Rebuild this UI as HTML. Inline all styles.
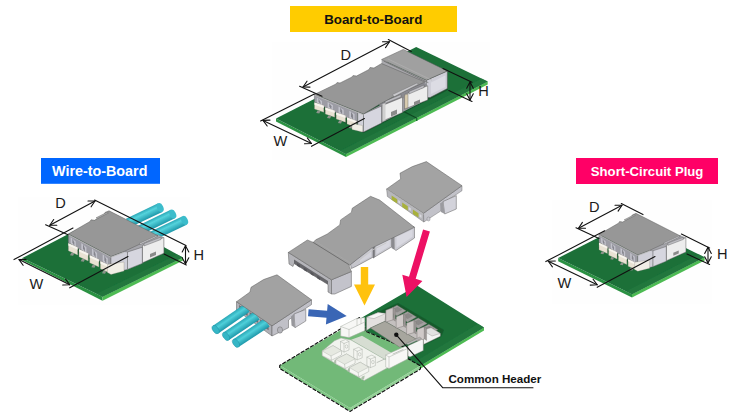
<!DOCTYPE html>
<html lang="en">
<head>
<meta charset="utf-8">
<title>Connector types</title>
<style>
html,body{margin:0;padding:0;background:#fff;}
body{width:730px;height:416px;overflow:hidden;font-family:"Liberation Sans",Arial,sans-serif;}
svg{display:block;}
.lbl{font-family:"Liberation Sans",Arial,sans-serif;font-weight:bold;font-size:13.3px;}
.dim{font-family:"Liberation Sans",Arial,sans-serif;font-size:14.6px;fill:#1a1a1a;}
.ln{stroke:#111;stroke-width:1.1;fill:none;stroke-linecap:round;stroke-linejoin:round;}
</style>
</head>
<body>
<svg width="730" height="416" viewBox="0 0 730 416">
<defs>
  <linearGradient id="wire" x1="0" y1="0" x2="0" y2="1">
    <stop offset="0" stop-color="#2aa7b6"/><stop offset="0.35" stop-color="#55d3dc"/><stop offset="1" stop-color="#1f98aa"/>
  </linearGradient>
  <linearGradient id="wire2" x1="0" y1="0" x2="0" y2="1">
    <stop offset="0" stop-color="#1f98aa"/><stop offset="0.6" stop-color="#4fd0da"/><stop offset="1" stop-color="#2aa7b6"/>
  </linearGradient>
  <filter id="soft" x="-5%" y="-5%" width="110%" height="110%"><feGaussianBlur stdDeviation="0.45"/></filter>
</defs>
<rect width="730" height="416" fill="#ffffff"/>

<!-- ============ LABELS ============ -->
<rect x="290" y="6" width="167" height="26" fill="#ffcc00"/>
<text class="lbl" x="324.2" y="24" textLength="98.2" lengthAdjust="spacingAndGlyphs" fill="#111" style="font-size:13.4px">Board-to-Board</text>
<rect x="41" y="158" width="119" height="25.8" fill="#0066ff"/>
<text class="lbl" x="52" y="176" textLength="95.4" lengthAdjust="spacingAndGlyphs" fill="#fff" style="font-size:13.8px">Wire-to-Board</text>
<rect x="576" y="158" width="142" height="26" fill="#ff0066"/>
<text class="lbl" x="590.8" y="176" textLength="112.6" lengthAdjust="spacingAndGlyphs" fill="#fff" style="font-size:13.5px">Short-Circuit Plug</text>

<!-- ============ TOP PICTURE ============ -->
<g id="top" filter="url(#soft)">
<rect x="272" y="42" width="218" height="118" fill="#fefefe"/>
<polygon points="276,118.5 346,154 346,157 276,121.5" fill="#2b9142"/>
<polygon points="346,154 487.7,81.5 487.7,84.5 346,157" fill="#4dbb52"/>
<polygon points="276,118.5 416.2,47 487.7,81.5 346,154" fill="#1a6f39"/>
<polygon points="346,154 487.7,81.5 481.7,78.5 340,151" fill="#237b3e" opacity="0.7"/>
<line class="" x1="416.4" y1="118" x2="402.4" y2="110.9" stroke="#0f4a22" stroke-width="1.2"/>
<line class="" x1="416.7" y1="118" x2="416.7" y2="121" stroke="#1d6a30" stroke-width="1.4"/>
<polygon points="316,108 363.5,133 448,90 447,72" fill="#14532a"/>
<polygon points="426.4,80.2 447.3,71 447.3,88.5 430,97.5 426.4,97.5" fill="#cfcfd8" stroke="#5a5a5a" stroke-width="0.5" stroke-linejoin="round"/>
<polygon points="431,82.5 445.3,75.5 445.3,87 431,94" fill="#dcdce4"/>
<polygon points="363.5,114 426.4,81 428,99 363.5,132" fill="#9c9ca2"/>
<polygon points="379,104 426.4,80 426.4,86 381.5,110" fill="#8a8a90"/>
<polygon points="404.6,94.5 427.7,85.8 427.7,100 404.6,109" fill="#ededed" stroke="#5a5a5a" stroke-width="0.5" stroke-linejoin="round"/>
<polygon points="404.6,95 408,94 408,107.5 404.6,109" fill="#d9ccb0" stroke="#5a5a5a" stroke-width="0.4" stroke-linejoin="round"/>
<polygon points="409,91.5 424,85 424,87.5 409,94" fill="#bdbdc2" stroke="#5a5a5a" stroke-width="0.4" stroke-linejoin="round"/>
<polygon points="414,102 420,99.6 420,103 414,105.4" fill="#8a8a8a"/>
<polygon points="382.5,105.4 402.5,97.3 402.5,112.5 382.5,121" fill="#ededed" stroke="#5a5a5a" stroke-width="0.5" stroke-linejoin="round"/>
<polygon points="385,101 401,94.5 401,97 385,103.5" fill="#bdbdc2" stroke="#5a5a5a" stroke-width="0.4" stroke-linejoin="round"/>
<polygon points="391,112 397,109.6 397,114 391,116.4" fill="#8a8a8a"/>
<polygon points="382.5,104 385.5,103 385.5,120.2 382.5,121.3" fill="#d0d0d0"/>
<polygon points="363.5,114 381.5,106 381.5,123 363.5,132" fill="#d6d6df" stroke="#5a5a5a" stroke-width="0.5" stroke-linejoin="round"/>
<polygon points="314.4,94.6 357.8,112.2 357.8,123.2 314.4,102.1" fill="#9c9ca4" stroke="#5a5a5a" stroke-width="0.4" stroke-linejoin="round"/>
<polygon points="316.8,97.6 322,100.9 322,105.8 316.8,102.5" fill="#c2c2cb"/>
<polygon points="318.5,98.6 320.5,101.9 320.5,104.8 318.5,101.5" fill="#85858d"/>
<polygon points="314.5,102.5 323.8,105.8 323.8,112.3 314.5,109" fill="#e9e2d3" stroke="#989284" stroke-width="0.3" stroke-linejoin="round"/>
<polygon points="314.5,102.5 323.8,105.8 323.8,108 314.5,104.7" fill="#f7f4ee"/>
<polygon points="317.5,110.5 320.5,111 319.3,113.5 316.2,113" fill="#8d948b"/>
<polygon points="327.6,102 332.9,105.3 332.9,110.8 327.6,107.5" fill="#c2c2cb"/>
<polygon points="329.3,103 331.4,106.3 331.4,109.8 329.3,106.5" fill="#85858d"/>
<polygon points="325.3,107.5 334.7,110.8 334.7,117.3 325.3,114" fill="#e9e2d3" stroke="#989284" stroke-width="0.3" stroke-linejoin="round"/>
<polygon points="325.3,107.5 334.7,110.8 334.7,113 325.3,109.7" fill="#f7f4ee"/>
<polygon points="328.3,115.5 331.3,116 330.1,118.5 327,118" fill="#8d948b"/>
<polygon points="338.5,106.4 343.7,109.7 343.7,115.8 338.5,112.5" fill="#c2c2cb"/>
<polygon points="340.2,107.4 342.2,110.7 342.2,114.8 340.2,111.5" fill="#85858d"/>
<polygon points="336.2,112.5 345.5,115.8 345.5,122.3 336.2,119" fill="#e9e2d3" stroke="#989284" stroke-width="0.3" stroke-linejoin="round"/>
<polygon points="336.2,112.5 345.5,115.8 345.5,118 336.2,114.7" fill="#f7f4ee"/>
<polygon points="339.2,120.5 342.2,121 341,123.5 337.9,123" fill="#8d948b"/>
<polygon points="349.3,110.8 354.6,114.1 354.6,120.9 349.3,117.5" fill="#c2c2cb"/>
<polygon points="351,111.8 353.1,115.1 353.1,119.9 351,116.5" fill="#85858d"/>
<polygon points="347,117.5 356.4,120.9 356.4,127.4 347,124" fill="#e9e2d3" stroke="#989284" stroke-width="0.3" stroke-linejoin="round"/>
<polygon points="347,117.5 356.4,120.9 356.4,123.1 347,119.7" fill="#f7f4ee"/>
<polygon points="350,125.5 353,126 351.8,128.5 348.7,128" fill="#8d948b"/>
<polygon points="357.8,111.8 363.5,114.2 363.5,132 357.8,130.5" fill="#d2d2da" stroke="#5a5a5a" stroke-width="0.4" stroke-linejoin="round"/>
<polygon points="352,123.5 362.5,125.5 362.5,132 352,129.5" fill="#f1eee6" stroke="#8a8578" stroke-width="0.3" stroke-linejoin="round"/>
<polygon points="381.6,59.5 426.4,80.2 426.4,84 381.6,64.5" fill="#a9a9ad"/>
<polygon points="381.6,59.5 403.3,49.4 447.3,71 426.4,80.2" fill="#a0a0a0" stroke="#5a5a5a" stroke-width="0.5" stroke-linejoin="round"/>
<polyline points="384,61.2 428,82.5" fill="none" stroke="#6e6e6e" stroke-width="0.8" stroke-linejoin="round" stroke-linecap="round"/>
<polyline points="388,59 431.5,80" fill="none" stroke="#b4b4b4" stroke-width="0.6" stroke-linejoin="round" stroke-linecap="round"/>
<polygon points="314.4,94.4 336,84 337,82.6 340,83 352,77 353,75.6 356.5,76 369,69.5 370,67.5 374,68 381.6,63.5 425,82 400,93.3 379,104.6 363.5,114" fill="#979797" stroke="#5a5a5a" stroke-width="0.5" stroke-linejoin="round"/>
<polyline points="314.8,95.3 363.5,114.8" fill="none" stroke="#b9b9b9" stroke-width="0.9" stroke-linejoin="round" stroke-linecap="round"/>
<polygon points="392.5,94.6 417,83 418.5,84.2 394,96.8" fill="#c9c9cd" stroke="#666" stroke-width="0.4" stroke-linejoin="round"/>
</g>

<!-- ============ LEFT PICTURE ============ -->
<g id="left" filter="url(#soft)">
<rect x="18" y="197" width="172" height="108" fill="#fefefe"/>
<polygon points="22.4,258 102.5,296.8 102.5,300.8 22.4,260.2" fill="#2b9142"/>
<polygon points="102.5,296.8 183,257.4 183,260.4 102.5,300.8" fill="#4dbb52"/>
<polygon points="22.4,258 105,215 183,257.4 102.5,296.8" fill="#1a6f39"/>
<polygon points="102.5,296.8 183,257.4 177,254.4 96.5,293.8" fill="#237b3e" opacity="0.7"/>
<g transform="translate(128,223) rotate(-25.6)"><rect x="0" y="-4.8" width="35.7" height="9.6" fill="url(#wire)"/><ellipse cx="35.7" cy="0" rx="3.1" ry="4.8" fill="#3bbccb"/></g>
<g transform="translate(138,231) rotate(-26)"><rect x="0" y="-4.8" width="38.7" height="9.6" fill="url(#wire)"/><ellipse cx="38.7" cy="0" rx="3.1" ry="4.8" fill="#3bbccb"/></g>
<g transform="translate(148,238) rotate(-25.6)"><rect x="0" y="-4.8" width="40.6" height="9.6" fill="url(#wire)"/><ellipse cx="40.6" cy="0" rx="3.1" ry="4.8" fill="#3bbccb"/></g>
<polygon points="67.5,248 105,267 164,253 164,240" fill="#14532a"/>
<polygon points="122,251 157,234.5 163.9,237.5 163.9,253 128,269" fill="#a6a6ac"/>
<polygon points="142.5,245.4 163.9,237.5 163.9,253.2 142.5,262.8" fill="#ededed" stroke="#5a5a5a" stroke-width="0.5" stroke-linejoin="round"/>
<polygon points="144,243.5 161,237 161,239.5 144,246" fill="#bdbdc2" stroke="#5a5a5a" stroke-width="0.4" stroke-linejoin="round"/>
<polygon points="150,254 156,251.6 156,255 150,257.4" fill="#8a8a8a"/>
<polygon points="127.5,252 142.3,247.2 142.3,263.4 127.5,269.4" fill="#d6d6df" stroke="#5a5a5a" stroke-width="0.5" stroke-linejoin="round"/>
<polygon points="68.3,234.3 111,256.8 111,267.8 68.3,242.8" fill="#9c9ca4" stroke="#5a5a5a" stroke-width="0.4" stroke-linejoin="round"/>
<polygon points="70.7,237.3 75.8,241.6 75.8,247.5 70.7,243.2" fill="#c2c2cb"/>
<polygon points="72.4,238.3 74.3,242.6 74.3,246.5 72.4,242.2" fill="#85858d"/>
<polygon points="68.4,243.2 77.6,247.5 77.6,255 68.4,250.8" fill="#e9e2d3" stroke="#989284" stroke-width="0.3" stroke-linejoin="round"/>
<polygon points="68.4,243.2 77.6,247.5 77.6,249.7 68.4,245.4" fill="#f7f4ee"/>
<polygon points="71.3,252.7 74.3,253.2 73.1,255.7 70,255.2" fill="#8d948b"/>
<polygon points="81.3,243 86.4,247.2 86.4,253.5 81.3,249.2" fill="#c2c2cb"/>
<polygon points="83,244 84.9,248.2 84.9,252.5 83,248.2" fill="#85858d"/>
<polygon points="79,249.2 88.2,253.5 88.2,261 79,256.8" fill="#e9e2d3" stroke="#989284" stroke-width="0.3" stroke-linejoin="round"/>
<polygon points="79,249.2 88.2,253.5 88.2,255.7 79,251.4" fill="#f7f4ee"/>
<polygon points="82,258.7 85,259.2 83.8,261.7 80.7,261.2" fill="#8d948b"/>
<polygon points="92,248.6 97.1,252.9 97.1,259.5 92,255.2" fill="#c2c2cb"/>
<polygon points="93.7,249.6 95.6,253.9 95.6,258.5 93.7,254.2" fill="#85858d"/>
<polygon points="89.7,255.2 98.9,259.5 98.9,267 89.7,262.8" fill="#e9e2d3" stroke="#989284" stroke-width="0.3" stroke-linejoin="round"/>
<polygon points="89.7,255.2 98.9,259.5 98.9,261.7 89.7,257.4" fill="#f7f4ee"/>
<polygon points="92.7,264.7 95.7,265.2 94.5,267.7 91.4,267.2" fill="#8d948b"/>
<polygon points="102.7,254.2 107.8,258.5 107.8,265.5 102.7,261.2" fill="#c2c2cb"/>
<polygon points="104.4,255.2 106.3,259.5 106.3,264.5 104.4,260.2" fill="#85858d"/>
<polygon points="100.4,261.2 109.6,265.5 109.6,273 100.4,268.8" fill="#e9e2d3" stroke="#989284" stroke-width="0.3" stroke-linejoin="round"/>
<polygon points="100.4,261.2 109.6,265.5 109.6,267.7 100.4,263.4" fill="#f7f4ee"/>
<polygon points="103.3,270.7 106.3,271.2 105.1,273.7 102,273.2" fill="#8d948b"/>
<polygon points="111,256.5 124,251.5 127.5,252 127.5,269.4 111,273" fill="#cfcfd8" stroke="#5a5a5a" stroke-width="0.4" stroke-linejoin="round"/>
<polygon points="107.5,264.5 124,262 124,271 111,274.5 107.5,272.5" fill="#f1eee6" stroke="#8a8578" stroke-width="0.3" stroke-linejoin="round"/>
<polygon points="68.3,234 90,221.5 91,219.8 94.5,220.3 104,214.5 105,212.5 109,210.8 158,235.7 124,251.5 111,256.5" fill="#979797" stroke="#5a5a5a" stroke-width="0.5" stroke-linejoin="round"/>
<polyline points="68.8,235 111,257.2 124,252.3" fill="none" stroke="#b9b9b9" stroke-width="0.9" stroke-linejoin="round" stroke-linecap="round"/>
<polygon points="139,243.5 156,235.8 157.5,236.6 140.5,244.5" fill="#c4c4c8" stroke="#666" stroke-width="0.4" stroke-linejoin="round"/>
<polygon points="96,217.8 107,212.2 108.5,213 97.5,218.7" fill="#a9a9a9" stroke="#666" stroke-width="0.4" stroke-linejoin="round"/>
</g>

<!-- ============ RIGHT PICTURE ============ -->
<g id="right" filter="url(#soft)">
<rect x="552" y="200" width="160" height="104" fill="#fefefe"/>
<polygon points="558.2,258 632,294.2 632,297.4 558.2,261.2" fill="#2b9142"/>
<polygon points="632,294.2 704.6,257.3 704.6,260.5 632,297.4" fill="#4dbb52"/>
<polygon points="558.2,258 630.8,221.1 704.6,257.3 632,294.2" fill="#1a6f39"/>
<polygon points="632,294.2 704.6,257.3 698.6,254.3 626,291.2" fill="#237b3e" opacity="0.7"/>
<g transform="translate(639.75,234.15) scale(0.91) translate(-113.15,-233.65)">
<polygon points="67.5,248 105,267 164,253 164,240" fill="#14532a"/>
<polygon points="122,251 157,234.5 163.9,237.5 163.9,253 128,269" fill="#a6a6ac"/>
<polygon points="142.5,245.4 163.9,237.5 163.9,253.2 142.5,262.8" fill="#ededed" stroke="#5a5a5a" stroke-width="0.5" stroke-linejoin="round"/>
<polygon points="144,243.5 161,237 161,239.5 144,246" fill="#bdbdc2" stroke="#5a5a5a" stroke-width="0.4" stroke-linejoin="round"/>
<polygon points="150,254 156,251.6 156,255 150,257.4" fill="#8a8a8a"/>
<polygon points="127.5,252 142.3,247.2 142.3,263.4 127.5,269.4" fill="#d6d6df" stroke="#5a5a5a" stroke-width="0.5" stroke-linejoin="round"/>
<polygon points="68.3,234.3 111,256.8 111,267.8 68.3,242.8" fill="#9c9ca4" stroke="#5a5a5a" stroke-width="0.4" stroke-linejoin="round"/>
<polygon points="70.7,237.3 75.8,241.6 75.8,247.5 70.7,243.2" fill="#c2c2cb"/>
<polygon points="72.4,238.3 74.3,242.6 74.3,246.5 72.4,242.2" fill="#85858d"/>
<polygon points="68.4,243.2 77.6,247.5 77.6,255 68.4,250.8" fill="#e9e2d3" stroke="#989284" stroke-width="0.3" stroke-linejoin="round"/>
<polygon points="68.4,243.2 77.6,247.5 77.6,249.7 68.4,245.4" fill="#f7f4ee"/>
<polygon points="71.3,252.7 74.3,253.2 73.1,255.7 70,255.2" fill="#8d948b"/>
<polygon points="81.3,243 86.4,247.2 86.4,253.5 81.3,249.2" fill="#c2c2cb"/>
<polygon points="83,244 84.9,248.2 84.9,252.5 83,248.2" fill="#85858d"/>
<polygon points="79,249.2 88.2,253.5 88.2,261 79,256.8" fill="#e9e2d3" stroke="#989284" stroke-width="0.3" stroke-linejoin="round"/>
<polygon points="79,249.2 88.2,253.5 88.2,255.7 79,251.4" fill="#f7f4ee"/>
<polygon points="82,258.7 85,259.2 83.8,261.7 80.7,261.2" fill="#8d948b"/>
<polygon points="92,248.6 97.1,252.9 97.1,259.5 92,255.2" fill="#c2c2cb"/>
<polygon points="93.7,249.6 95.6,253.9 95.6,258.5 93.7,254.2" fill="#85858d"/>
<polygon points="89.7,255.2 98.9,259.5 98.9,267 89.7,262.8" fill="#e9e2d3" stroke="#989284" stroke-width="0.3" stroke-linejoin="round"/>
<polygon points="89.7,255.2 98.9,259.5 98.9,261.7 89.7,257.4" fill="#f7f4ee"/>
<polygon points="92.7,264.7 95.7,265.2 94.5,267.7 91.4,267.2" fill="#8d948b"/>
<polygon points="102.7,254.2 107.8,258.5 107.8,265.5 102.7,261.2" fill="#c2c2cb"/>
<polygon points="104.4,255.2 106.3,259.5 106.3,264.5 104.4,260.2" fill="#85858d"/>
<polygon points="100.4,261.2 109.6,265.5 109.6,273 100.4,268.8" fill="#e9e2d3" stroke="#989284" stroke-width="0.3" stroke-linejoin="round"/>
<polygon points="100.4,261.2 109.6,265.5 109.6,267.7 100.4,263.4" fill="#f7f4ee"/>
<polygon points="103.3,270.7 106.3,271.2 105.1,273.7 102,273.2" fill="#8d948b"/>
<polygon points="111,256.5 124,251.5 127.5,252 127.5,269.4 111,273" fill="#cfcfd8" stroke="#5a5a5a" stroke-width="0.4" stroke-linejoin="round"/>
<polygon points="107.5,264.5 124,262 124,271 111,274.5 107.5,272.5" fill="#f1eee6" stroke="#8a8578" stroke-width="0.3" stroke-linejoin="round"/>
<polygon points="68.3,234 90,221.5 91,219.8 94.5,220.3 104,214.5 105,212.5 109,210.8 158,235.7 124,251.5 111,256.5" fill="#979797" stroke="#5a5a5a" stroke-width="0.5" stroke-linejoin="round"/>
<polyline points="68.8,235 111,257.2 124,252.3" fill="none" stroke="#b9b9b9" stroke-width="0.9" stroke-linejoin="round" stroke-linecap="round"/>
<polygon points="139,243.5 156,235.8 157.5,236.6 140.5,244.5" fill="#c4c4c8" stroke="#666" stroke-width="0.4" stroke-linejoin="round"/>
<polygon points="96,217.8 107,212.2 108.5,213 97.5,218.7" fill="#a9a9a9" stroke="#666" stroke-width="0.4" stroke-linejoin="round"/>
</g>
</g>

<!-- ============ CENTER PICTURE ============ -->
<g id="center" filter="url(#soft)">
<polygon points="280,365.5 350,408 350,411 280,368.5" fill="#80c886"/>
<polygon points="350,408 419.9,365.9 419.9,368.9 350,411" fill="#93d296"/>
<polygon points="419.9,365.9 484,327.4 484,330.4 419.9,368.9" fill="#4dbb52"/>
<polygon points="280,365.5 362,317.6 366,331 408,349 408,358.7 419.9,365.9 350,408" fill="#72b978"/>
<polygon points="362,317.6 417,285.5 484,327.4 419.9,365.9 408,358.7 408,349 366,331" fill="#1a6f39"/>
<polygon points="419.9,365.9 484,327.4 478,323.8 413.9,362.3" fill="#237b3e" opacity="0.7"/>
<polyline points="359.5,317.6 279.7,365.5 279.7,368.5 350,411.4 420.4,369.1 420.4,365.9 408,358.7 408,349 365,331 364.5,319" fill="none" stroke="#111" stroke-width="1.15" stroke-linejoin="round" stroke-linecap="round" stroke-dasharray="3.2 2.2"/>
<polygon points="378,312 398,303 444,330 441,337 424,345" fill="#155a2c"/>
<polygon points="388,310 397,305.3 406,310.8 397,316" fill="#a3a1a0" stroke="#77736f" stroke-width="0.4" stroke-linejoin="round"/>
<polygon points="392,309.5 397.5,306.8 402.5,309.8 397,312.6" fill="#8b8988"/>
<polygon points="398.6,316.3 407.6,311.6 416.6,317.1 407.6,322.3" fill="#a3a1a0" stroke="#77736f" stroke-width="0.4" stroke-linejoin="round"/>
<polygon points="402.6,315.8 408.1,313.1 413.1,316.1 407.6,318.9" fill="#8b8988"/>
<polygon points="409.2,322.6 418.2,317.9 427.2,323.4 418.2,328.6" fill="#a3a1a0" stroke="#77736f" stroke-width="0.4" stroke-linejoin="round"/>
<polygon points="413.2,322.1 418.7,319.4 423.7,322.4 418.2,325.2" fill="#8b8988"/>
<polygon points="419.8,328.9 428.8,324.2 437.8,329.7 428.8,334.9" fill="#a3a1a0" stroke="#77736f" stroke-width="0.4" stroke-linejoin="round"/>
<polygon points="423.8,328.4 429.3,325.7 434.3,328.7 428.8,331.5" fill="#8b8988"/>
<polygon points="422.7,330.3 431,327.8 440.4,333.4 440.4,336.2 423.5,344.4" fill="#f4f4f4" stroke="#77736f" stroke-width="0.4" stroke-linejoin="round"/>
<polygon points="422.7,330.3 431,327.8 440.4,333.4 432,336" fill="#e2e2e2" stroke="#77736f" stroke-width="0.3" stroke-linejoin="round"/>
<polygon points="385.5,313 423,335.5 423,343 416.5,339.5 385,321.3" fill="#c4c0bf" stroke="#77736f" stroke-width="0.3" stroke-linejoin="round"/>
<polygon points="366.5,317.2 378,312.6 385.8,313.4 385,321.3 370.4,328 366.5,330.5" fill="#e3e0df" stroke="#77736f" stroke-width="0.4" stroke-linejoin="round"/>
<polygon points="366.5,317.2 378,312.6 385.8,313.4 374,318.6" fill="#f6f6f6" stroke="#77736f" stroke-width="0.3" stroke-linejoin="round"/>
<polygon points="370.4,328 385,321.3 416.5,339.3 399.6,347.2" fill="#a7a69e" stroke="#6b6a64" stroke-width="0.4" stroke-linejoin="round"/>
<polygon points="385.8,310.3 393.2,307.6 393.2,319.8 385.8,322" fill="#cfc9c8" stroke="#77736f" stroke-width="0.45" stroke-linejoin="round"/>
<polygon points="393.2,307.6 395.4,309 395.4,321.2 393.2,319.8" fill="#9c9796" stroke="#77736f" stroke-width="0.3" stroke-linejoin="round"/>
<polygon points="396.2,316.7 403.6,314 403.6,326.2 396.2,328.4" fill="#cfc9c8" stroke="#77736f" stroke-width="0.45" stroke-linejoin="round"/>
<polygon points="403.6,314 405.8,315.4 405.8,327.6 403.6,326.2" fill="#9c9796" stroke="#77736f" stroke-width="0.3" stroke-linejoin="round"/>
<polygon points="406.6,323.1 414,320.4 414,332.6 406.6,334.8" fill="#cfc9c8" stroke="#77736f" stroke-width="0.45" stroke-linejoin="round"/>
<polygon points="414,320.4 416.2,321.8 416.2,334 414,332.6" fill="#9c9796" stroke="#77736f" stroke-width="0.3" stroke-linejoin="round"/>
<polygon points="417,329.5 424.4,326.8 424.4,339 417,341.2" fill="#cfc9c8" stroke="#77736f" stroke-width="0.45" stroke-linejoin="round"/>
<polygon points="424.4,326.8 426.6,328.2 426.6,340.4 424.4,339" fill="#9c9796" stroke="#77736f" stroke-width="0.3" stroke-linejoin="round"/>
<polygon points="408,345.7 422,339.3 423.3,340 423.3,350.5 410,357 408,356" fill="#f6f6f6" stroke="#77736f" stroke-width="0.4" stroke-linejoin="round"/>
<polygon points="405.8,343.6 419.6,337.2 421.6,338.4 408,344.8" fill="#b5b5b5" stroke="#77736f" stroke-width="0.4" stroke-linejoin="round"/>
<polygon points="340.7,326.5 356,318.8 364.8,317.5 364.8,330.6 349,337.6 340.7,336" fill="#f7f7f5" stroke="#a9aea6" stroke-width="0.5" stroke-linejoin="round"/>
<polyline points="340.7,326.5 349,329.5 364.8,322" fill="none" stroke="#a9aea6" stroke-width="0.5" stroke-linejoin="round" stroke-linecap="round"/>
<polyline points="349,329.5 349,337.6" fill="none" stroke="#a9aea6" stroke-width="0.5" stroke-linejoin="round" stroke-linecap="round"/>
<polyline points="357,318.8 357,325.5" fill="none" stroke="#a9aea6" stroke-width="0.5" stroke-linejoin="round" stroke-linecap="round"/>
<polyline points="361,318 361,323.7" fill="none" stroke="#a9aea6" stroke-width="0.5" stroke-linejoin="round" stroke-linecap="round"/>
<polygon points="351,339.8 362,335.7 391.8,353 384.6,359.2" fill="#d6ddd2"/>
<polygon points="322.3,351 334.5,340.8 341,338 351,340 385,359.5 389,360.5 389,367 364.2,380.5 322.3,355.8" fill="#f1f3ee" stroke="#a9aea6" stroke-width="0.5" stroke-linejoin="round"/>
<polygon points="322.3,351 333,345.6 341.5,350.6 341.5,355 331.5,360.3 322.3,355.6" fill="#f5f6f2" stroke="#a9aea6" stroke-width="0.5" stroke-linejoin="round"/>
<polygon points="322.3,351 333,345.6 341.5,350.6 331,356" fill="#e6e9e1" stroke="#a9aea6" stroke-width="0.4" stroke-linejoin="round"/>
<polyline points="331,356 331.5,360.3" fill="none" stroke="#a9aea6" stroke-width="0.5" stroke-linejoin="round" stroke-linecap="round"/>
<polygon points="334.5,360.2 337.5,359 336.8,362.6 333.8,363.4" fill="#aebfaa"/>
<polygon points="335.9,359.3 346.6,353.9 355.1,358.9 355.1,363.3 345.1,368.6 335.9,363.9" fill="#f5f6f2" stroke="#a9aea6" stroke-width="0.5" stroke-linejoin="round"/>
<polygon points="335.9,359.3 346.6,353.9 355.1,358.9 344.6,364.3" fill="#e6e9e1" stroke="#a9aea6" stroke-width="0.4" stroke-linejoin="round"/>
<polyline points="344.6,364.3 345.1,368.6" fill="none" stroke="#a9aea6" stroke-width="0.5" stroke-linejoin="round" stroke-linecap="round"/>
<polygon points="348.1,368.5 351.1,367.3 350.4,370.9 347.4,371.7" fill="#aebfaa"/>
<polygon points="349.5,367.6 360.2,362.2 368.7,367.2 368.7,371.6 358.7,376.9 349.5,372.2" fill="#f5f6f2" stroke="#a9aea6" stroke-width="0.5" stroke-linejoin="round"/>
<polygon points="349.5,367.6 360.2,362.2 368.7,367.2 358.2,372.6" fill="#e6e9e1" stroke="#a9aea6" stroke-width="0.4" stroke-linejoin="round"/>
<polyline points="358.2,372.6 358.7,376.9" fill="none" stroke="#a9aea6" stroke-width="0.5" stroke-linejoin="round" stroke-linecap="round"/>
<polygon points="361.7,376.8 364.7,375.6 364,379.2 361,380" fill="#aebfaa"/>
<polygon points="340.5,341.5 345.5,339.5 349,341.5 349,350 344,352 340.5,350" fill="#f4f5f1" stroke="#a9aea6" stroke-width="0.5" stroke-linejoin="round"/>
<polyline points="340.5,341.5 344,343.5 349,341.5" fill="none" stroke="#a9aea6" stroke-width="0.5" stroke-linejoin="round" stroke-linecap="round"/>
<polyline points="344,343.5 344,352" fill="none" stroke="#a9aea6" stroke-width="0.5" stroke-linejoin="round" stroke-linecap="round"/>
<ellipse cx="346.5" cy="346.5" rx="1.3" ry="1.7" fill="none" stroke="#a9aea6" stroke-width="0.5"/>
<polygon points="353.7,349.3 358.7,347.3 362.2,349.3 362.2,357.8 357.2,359.8 353.7,357.8" fill="#f4f5f1" stroke="#a9aea6" stroke-width="0.5" stroke-linejoin="round"/>
<polyline points="353.7,349.3 357.2,351.3 362.2,349.3" fill="none" stroke="#a9aea6" stroke-width="0.5" stroke-linejoin="round" stroke-linecap="round"/>
<polyline points="357.2,351.3 357.2,359.8" fill="none" stroke="#a9aea6" stroke-width="0.5" stroke-linejoin="round" stroke-linecap="round"/>
<ellipse cx="359.7" cy="354.3" rx="1.3" ry="1.7" fill="none" stroke="#a9aea6" stroke-width="0.5"/>
<polygon points="366.9,357.1 371.9,355.1 375.4,357.1 375.4,365.6 370.4,367.6 366.9,365.6" fill="#f4f5f1" stroke="#a9aea6" stroke-width="0.5" stroke-linejoin="round"/>
<polyline points="366.9,357.1 370.4,359.1 375.4,357.1" fill="none" stroke="#a9aea6" stroke-width="0.5" stroke-linejoin="round" stroke-linecap="round"/>
<polyline points="370.4,359.1 370.4,367.6" fill="none" stroke="#a9aea6" stroke-width="0.5" stroke-linejoin="round" stroke-linecap="round"/>
<ellipse cx="372.9" cy="362.1" rx="1.3" ry="1.7" fill="none" stroke="#a9aea6" stroke-width="0.5"/>
<polygon points="385.7,355 406,346 407.6,347 407.6,359 389,368.6 385.7,367" fill="#f8f8f6" stroke="#a9aea6" stroke-width="0.5" stroke-linejoin="round"/>
<polyline points="385.7,355 389,357 407.6,348.5" fill="none" stroke="#a9aea6" stroke-width="0.5" stroke-linejoin="round" stroke-linecap="round"/>
<polyline points="389,357 389,368.6" fill="none" stroke="#a9aea6" stroke-width="0.5" stroke-linejoin="round" stroke-linecap="round"/>
<polyline points="393,354 403,349.6" fill="none" stroke="#a9aea6" stroke-width="0.7" stroke-linejoin="round" stroke-linecap="round"/>
<polyline points="377,362.5 384,359.3" fill="none" stroke="#a9aea6" stroke-width="0.7" stroke-linejoin="round" stroke-linecap="round"/>
<polygon points="386.6,189 423.5,213.3 423.8,222 387.4,196.5" fill="#b7b7bc" stroke="#5a5a5a" stroke-width="0.4" stroke-linejoin="round"/>
<polygon points="391.6,195.5 397.2,199.2 397.2,203.5 391.6,199.8" fill="#a8b13a"/>
<polygon points="398.2,199.9 400.2,201.2 400.2,203.9 398.2,202.6" fill="#d9d9de"/>
<polygon points="402.2,202.6 407.8,206.3 407.8,210.6 402.2,206.9" fill="#a8b13a"/>
<polygon points="408.8,207 410.8,208.3 410.8,211 408.8,209.7" fill="#d9d9de"/>
<polygon points="412.9,209.6 418.5,213.3 418.5,217.6 412.9,213.9" fill="#a8b13a"/>
<polygon points="419.5,214 421.5,215.3 421.5,218 419.5,216.7" fill="#d9d9de"/>
<polygon points="423.5,213.3 462,185.7 462,190.7 456.3,194.5 441.5,204 441,210.8 423.8,222" fill="#c2c2c9" stroke="#5a5a5a" stroke-width="0.4" stroke-linejoin="round"/>
<polygon points="443,201.5 456.3,195.6 456.3,209 444.7,214" fill="#d3d3db" stroke="#5a5a5a" stroke-width="0.5" stroke-linejoin="round"/>
<polygon points="443,201.5 444.7,214 441,212 440,203.5" fill="#9b9ba0"/>
<ellipse cx="428.5" cy="219" rx="1.6" ry="2" fill="#c9c9cf" stroke="#77777c" stroke-width="0.4"/>
<polygon points="426.4,161.6 462,185.7 423.5,213.3 386.6,189 400.7,179 400,173.2 412.3,166.6" fill="#a3a3a3" stroke="#5a5a5a" stroke-width="0.5" stroke-linejoin="round"/>
<polyline points="387.2,189.8 423.5,214" fill="none" stroke="#bdbdbd" stroke-width="0.8" stroke-linejoin="round" stroke-linecap="round"/>
<polygon points="394,235.5 413.8,226.5 414.5,227.3 414.5,238 396,250.5 394.5,249.5" fill="#cbcbd3" stroke="#5a5a5a" stroke-width="0.5" stroke-linejoin="round"/>
<polygon points="396.5,237 412.5,229.6 412.5,236.8 396.5,247.5" fill="#d9d9e1"/>
<polygon points="374.7,244.5 391.5,236 391.5,247 374.7,257" fill="#c9c9d1" stroke="#5a5a5a" stroke-width="0.5" stroke-linejoin="round"/>
<polygon points="376.5,246.2 389.8,239.4 389.8,246 376.5,254" fill="#d7d7df"/>
<polygon points="350.5,264.5 372,245.8 373,246 373,257.2 356,266.4 351.4,268.5" fill="#c5c5cd" stroke="#5a5a5a" stroke-width="0.5" stroke-linejoin="round"/>
<polygon points="360,259.5 371,250 371,256.5 360,262.5" fill="#d3d3db"/>
<polygon points="373,246 374.7,245.2 374.7,257.6 373,258.4" fill="#77777c"/>
<polygon points="391.5,236.5 394,235.8 394,249.5 391.5,248" fill="#8a8a8f"/>
<polygon points="288.3,252.4 331.5,279.8 331.5,294 328,292 328,284.5 294,263.5 293,266.5 289,264" fill="#b4b4b9" stroke="#5a5a5a" stroke-width="0.5" stroke-linejoin="round"/>
<polygon points="294,259.5 328,281 328,284.5 294,263.5" fill="#66666a"/>
<polygon points="297,263.2 300,265.1 300,267.6 297,265.7" fill="#55555a"/>
<polygon points="303.8,267.4 306.8,269.3 306.8,271.8 303.8,269.9" fill="#55555a"/>
<polygon points="310.5,271.6 313.5,273.5 313.5,276 310.5,274.1" fill="#55555a"/>
<polygon points="317.2,275.8 320.2,277.7 320.2,280.2 317.2,278.3" fill="#55555a"/>
<polygon points="331.5,279.8 351.4,271.5 351.4,286.4 334.8,294 331.5,294" fill="#c3c3cb" stroke="#5a5a5a" stroke-width="0.5" stroke-linejoin="round"/>
<polygon points="370.5,196.3 379.6,200 414.5,227.3 394.5,237 371.3,248.3 349,265.7 351.4,271.5 331.5,279.8 288.3,252.4 307.4,240 313.2,242.4 315.7,239.8 327.3,234 339.8,224.9 340.6,219.9 351.4,212.4 352.2,208.3" fill="#a0a0a0" stroke="#5a5a5a" stroke-width="0.5" stroke-linejoin="round"/>
<polyline points="313.2,242.4 348.9,264.6" fill="none" stroke="#6a6a6a" stroke-width="0.9" stroke-linejoin="round" stroke-linecap="round"/>
<polyline points="315.5,241.4 350.5,263" fill="none" stroke="#a8a8a8" stroke-width="0.7" stroke-linejoin="round" stroke-linecap="round"/>
<polyline points="353,265 372,250.3 386,243" fill="none" stroke="#c5c5c5" stroke-width="0.9" stroke-linejoin="round" stroke-linecap="round"/>
<polygon points="236.5,301.7 272,325.8 272,336 236.5,310" fill="#b0b0b6" stroke="#5a5a5a" stroke-width="0.5" stroke-linejoin="round"/>
<polygon points="239.1,304.9 247.6,310.7 247.6,315.9 239.1,310.1" fill="#6d6d74"/>
<polygon points="249.6,312.1 258.1,317.9 258.1,323.1 249.6,317.3" fill="#6d6d74"/>
<polygon points="260.1,319.3 268.6,325.1 268.6,330.3 260.1,324.5" fill="#6d6d74"/>
<g transform="translate(247,308) rotate(145.5)"><rect x="0" y="-4.7" width="38.1" height="9.4" fill="url(#wire2)"/><ellipse cx="38.1" cy="0" rx="2.8" ry="4.7" fill="#35b6c6" stroke="#1c8e9f" stroke-width="0.4"/></g>
<g transform="translate(257,315.5) rotate(146.1)"><rect x="0" y="-4.7" width="37.3" height="9.4" fill="url(#wire2)"/><ellipse cx="37.3" cy="0" rx="2.8" ry="4.7" fill="#35b6c6" stroke="#1c8e9f" stroke-width="0.4"/></g>
<g transform="translate(267,322.5) rotate(146.3)"><rect x="0" y="-4.7" width="37.3" height="9.4" fill="url(#wire2)"/><ellipse cx="37.3" cy="0" rx="2.8" ry="4.7" fill="#35b6c6" stroke="#1c8e9f" stroke-width="0.4"/></g>
<polygon points="272,325.8 311.5,299.8 311.5,304.6 294,316 288.5,320 288.5,327.7 272,336" fill="#c0c0c7" stroke="#5a5a5a" stroke-width="0.5" stroke-linejoin="round"/>
<polygon points="294,314 305.8,309.4 305.8,321 295,327.7" fill="#d1d1d9" stroke="#5a5a5a" stroke-width="0.5" stroke-linejoin="round"/>
<polygon points="294,314 295,327.7 291.5,325.5 291,316.5" fill="#97979c"/>
<ellipse cx="280" cy="330" rx="2.6" ry="3.2" fill="#b4b4ba" stroke="#6c6c6c" stroke-width="0.5"/>
<polygon points="277,274.8 311.5,299.8 272,325.8 236.5,301.7 250,292 251,287.3 263.5,279.6" fill="#a2a2a2" stroke="#5a5a5a" stroke-width="0.5" stroke-linejoin="round"/>
</g>

<!-- ============ DIMENSIONS ============ -->
<g id="dims">
<line class="ln" x1="303" y1="87" x2="389.5" y2="41.8"/><polyline points="310,87.1 303,87 307,81.2" fill="none" stroke="#111" stroke-width="1.1" stroke-linejoin="round" stroke-linecap="round"/><polyline points="382.5,41.7 389.5,41.8 385.5,47.6" fill="none" stroke="#111" stroke-width="1.1" stroke-linejoin="round" stroke-linecap="round"/>
<line class="ln" x1="299.6" y1="86.3" x2="322" y2="96.3"/>
<line class="ln" x1="388.3" y1="39.6" x2="411.3" y2="51.5"/>
<line class="ln" x1="260.6" y1="121" x2="314.4" y2="94"/>
<line class="ln" x1="311.5" y1="146.3" x2="364.4" y2="118.5"/>
<line class="ln" x1="263" y1="120.4" x2="311.5" y2="143.5"/><polyline points="267.2,126 263,120.4 270,120.1" fill="none" stroke="#111" stroke-width="1.1" stroke-linejoin="round" stroke-linecap="round"/><polyline points="307.3,137.9 311.5,143.5 304.5,143.8" fill="none" stroke="#111" stroke-width="1.1" stroke-linejoin="round" stroke-linecap="round"/>
<line class="ln" x1="443" y1="68.5" x2="472" y2="82.3"/>
<line class="ln" x1="448.8" y1="90.6" x2="472" y2="101.5"/>
<line class="ln" x1="470" y1="82" x2="470" y2="100"/><polyline points="466.7,88.2 470,82 473.3,88.2" fill="none" stroke="#111" stroke-width="1.1" stroke-linejoin="round" stroke-linecap="round"/><polyline points="473.3,93.8 470,100 466.7,93.8" fill="none" stroke="#111" stroke-width="1.1" stroke-linejoin="round" stroke-linecap="round"/>
<text class="dim" x="340.6" y="60.2">D</text>
<text class="dim" x="273.5" y="145.6">W</text>
<text class="dim" x="478.3" y="96.2">H</text>
<line class="ln" x1="49.8" y1="225.3" x2="95" y2="201"/><polyline points="56.8,225.3 49.8,225.3 53.7,219.5" fill="none" stroke="#111" stroke-width="1.1" stroke-linejoin="round" stroke-linecap="round"/><polyline points="88,201 95,201 91.1,206.8" fill="none" stroke="#111" stroke-width="1.1" stroke-linejoin="round" stroke-linecap="round"/>
<line class="ln" x1="45.6" y1="224.8" x2="68" y2="234.8"/>
<line class="ln" x1="94.6" y1="200" x2="186" y2="245.6"/>
<line class="ln" x1="14" y1="259.6" x2="73" y2="228"/>
<line class="ln" x1="69.7" y1="287.8" x2="128" y2="256.5"/>
<line class="ln" x1="19" y1="259.6" x2="69.7" y2="284.8"/><polyline points="23.1,265.3 19,259.6 26,259.4" fill="none" stroke="#111" stroke-width="1.1" stroke-linejoin="round" stroke-linecap="round"/><polyline points="65.6,279.1 69.7,284.8 62.7,285" fill="none" stroke="#111" stroke-width="1.1" stroke-linejoin="round" stroke-linecap="round"/>
<line class="ln" x1="164" y1="254" x2="186.3" y2="265"/>
<line class="ln" x1="185.5" y1="245.8" x2="185.5" y2="264"/><polyline points="182.2,252 185.5,245.8 188.8,252" fill="none" stroke="#111" stroke-width="1.1" stroke-linejoin="round" stroke-linecap="round"/><polyline points="188.8,257.8 185.5,264 182.2,257.8" fill="none" stroke="#111" stroke-width="1.1" stroke-linejoin="round" stroke-linecap="round"/>
<text class="dim" x="55.2" y="208">D</text>
<text class="dim" x="29.6" y="289">W</text>
<text class="dim" x="193.5" y="260">H</text>
<line class="ln" x1="578.5" y1="228.2" x2="622" y2="205.3"/><polyline points="585.5,228.2 578.5,228.2 582.4,222.4" fill="none" stroke="#111" stroke-width="1.1" stroke-linejoin="round" stroke-linecap="round"/><polyline points="615,205.3 622,205.3 618.1,211.1" fill="none" stroke="#111" stroke-width="1.1" stroke-linejoin="round" stroke-linecap="round"/>
<line class="ln" x1="576" y1="227.8" x2="599" y2="238.5"/>
<line class="ln" x1="621.3" y1="203.6" x2="643" y2="214.6"/>
<line class="ln" x1="681.4" y1="234" x2="709.6" y2="248"/>
<line class="ln" x1="545.8" y1="261.6" x2="604.7" y2="230.7"/>
<line class="ln" x1="597.2" y1="287.3" x2="655" y2="256.6"/>
<line class="ln" x1="548.3" y1="261.3" x2="597.2" y2="284.8"/><polyline points="552.4,266.9 548.3,261.3 555.3,261" fill="none" stroke="#111" stroke-width="1.1" stroke-linejoin="round" stroke-linecap="round"/><polyline points="593.1,279.2 597.2,284.8 590.2,285.1" fill="none" stroke="#111" stroke-width="1.1" stroke-linejoin="round" stroke-linecap="round"/>
<line class="ln" x1="687" y1="254" x2="709.6" y2="264.4"/>
<line class="ln" x1="708" y1="247.3" x2="708" y2="263"/><polyline points="704.7,253.5 708,247.3 711.3,253.5" fill="none" stroke="#111" stroke-width="1.1" stroke-linejoin="round" stroke-linecap="round"/><polyline points="711.3,256.8 708,263 704.7,256.8" fill="none" stroke="#111" stroke-width="1.1" stroke-linejoin="round" stroke-linecap="round"/>
<text class="dim" x="589" y="212">D</text>
<text class="dim" x="557.5" y="287.8">W</text>
<text class="dim" x="717" y="259">H</text>
<circle cx="396.3" cy="334.8" r="2.2" fill="#111"/>
<polyline points="396.3,334.8 442.9,387.8 533,387.8" fill="none" stroke="#111" stroke-width="1.1" stroke-linejoin="round" stroke-linecap="round"/>
<text class="lbl" x="448.5" y="382.8" fill="#111" style="font-size:11.6px">Common Header</text>
<polygon points="360.8,267 360.8,284.5 354,284.5 364.5,305.5 375,284.5 368.2,284.5 368.2,267" fill="#ffc20e"/>
<polygon points="423.1,229.6 409,276.8 402.3,274.8 406.6,297 422.4,280.9 415.7,278.8 429.9,231.6" fill="#ed1164"/>
<polygon points="308,316.2 326.5,317.8 325.9,324.5 346.7,316 327.7,304.1 327.1,310.8 308.6,309.2" fill="#3a66b5"/>
</g>
</svg>
</body>
</html>
